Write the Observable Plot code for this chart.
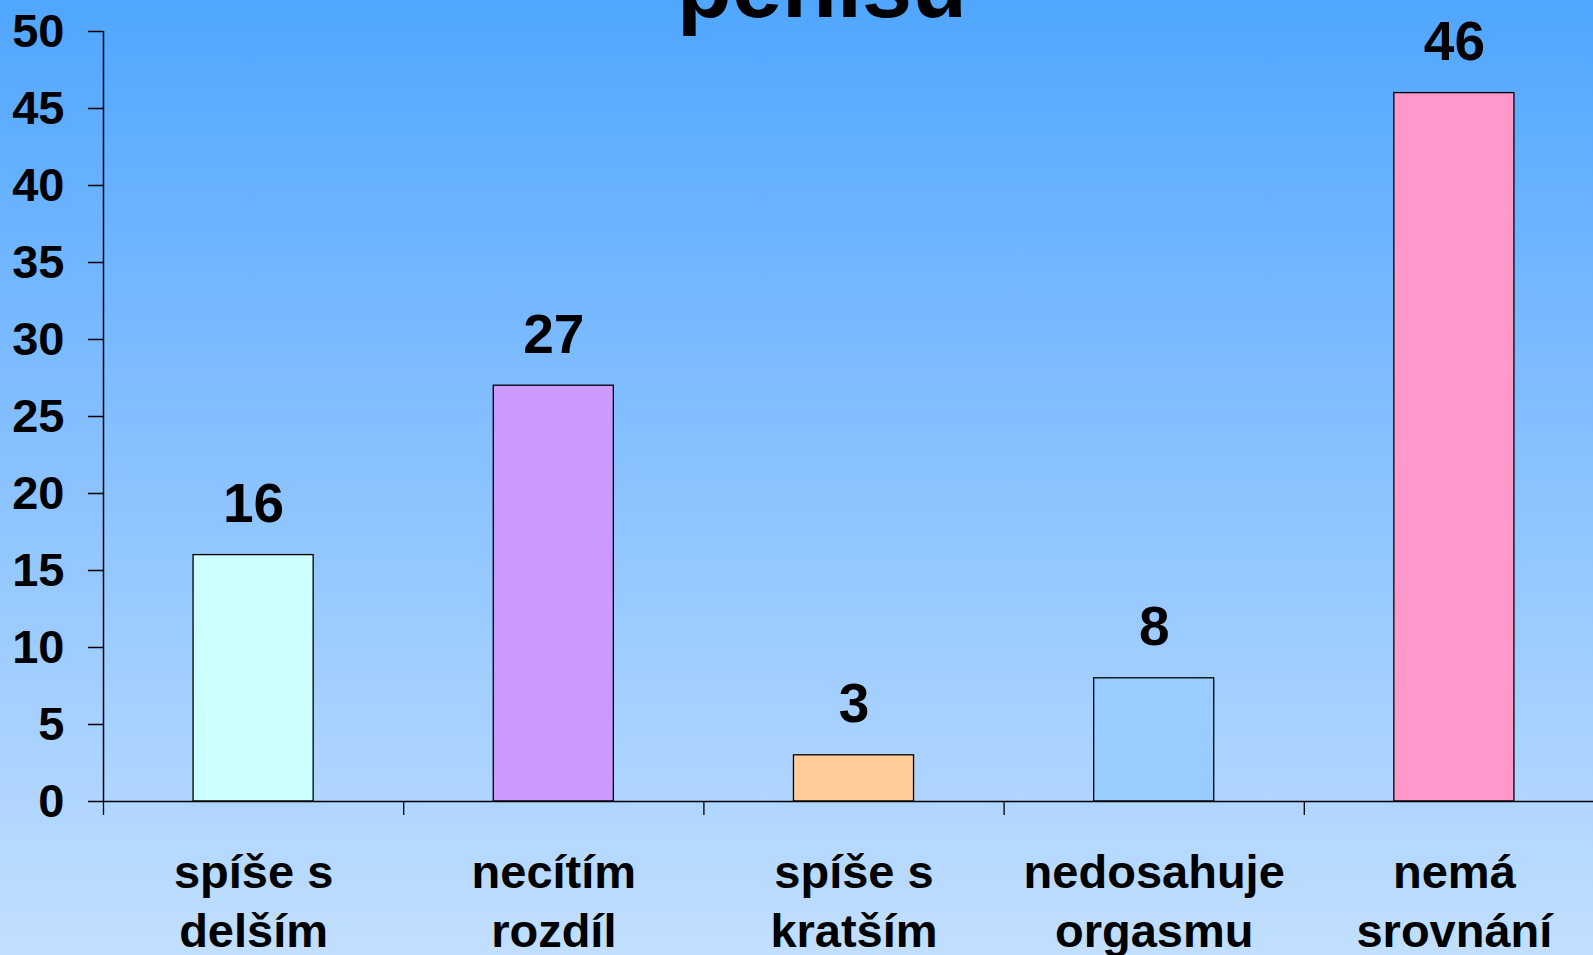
<!DOCTYPE html>
<html>
<head>
<meta charset="utf-8">
<script src="https://cdn.jsdelivr.net/npm/d3@7"></script>
<script src="https://cdn.jsdelivr.net/npm/@observablehq/plot@0.6"></script>
<style>
  html, body { margin: 0; padding: 0; width: 1593px; height: 955px; overflow: hidden; }
  body {
    background: linear-gradient(to bottom, #50A6FF 0%, #8AC2FF 50%, #C2DFFF 100%);
    font-family: "Liberation Sans", Arial, sans-serif;
    position: relative;
  }
  #title {
    position: absolute; left: 0; top: -59px; width: 1593px;
    box-sizing: border-box; padding-left: 51px;
    text-align: center; font-size: 90px; font-weight: bold; line-height: 1; color: #000;
  }
  #chart { position: absolute; left: 0; top: 0; }
  #chart svg { background: transparent !important; }
</style>
</head>
<body>
<div id="title">penisu</div>
<div id="chart"></div>
<script>
const categories = ["spíše s\ndelším", "necítím\nrozdíl", "spíše s\nkratším", "nedosahuje\norgasmu", "nemá\nsrovnání"];
const values = [16, 27, 3, 8, 46];
const colors = ["#CCFFFF", "#CC99FF", "#FFCC99", "#99CCFF", "#FF99CC"];
const yTicks = [0, 5, 10, 15, 20, 25, 30, 35, 40, 45, 50];

const data = categories.map((c, i) => ({cat: c, value: values[i], color: colors[i], i}));
const boundaries = d3.range(categories.length + 1);

const font = "'Liberation Sans', Arial, sans-serif";

const chart = Plot.plot({
  width: 1593,
  height: 955,
  marginLeft: 103,
  marginRight: 0,
  marginTop: 31,
  marginBottom: 154,
  style: {background: "transparent", fontFamily: font, fontWeight: "bold", color: "#000", overflow: "visible"},
  x: {type: "linear", domain: [0, categories.length], range: [103, 103 + 5 * 300.2]},
  y: {domain: [0, 50]},
  marks: [
    Plot.rectY(data, {
      x1: d => d.i + 0.3, x2: d => d.i + 0.7, y1: 0, y2: "value",
      fill: d => d.color, stroke: "#000", strokeWidth: 1.3
    }),
    Plot.ruleX([0], {stroke: "#000", strokeWidth: 1.5}),
    Plot.ruleY([0], {stroke: "#000", strokeWidth: 1.5}),
    Plot.axisY({ticks: yTicks, tickSize: 15, tickPadding: 24, fontSize: 47, fontWeight: "bold", stroke: "#000", strokeWidth: 1.5, label: null}),
    Plot.axisX({ticks: boundaries, tickSize: 14, tickFormat: () => "", stroke: "#000", strokeWidth: 1.3, label: null}),
    Plot.text(data, {
      x: d => d.i + 0.5, y: "value", text: d => String(d.value),
      fontSize: 55, fontWeight: "bold", fill: "#000", lineAnchor: "bottom", dy: -33
    }),
    Plot.text(data, {
      x: d => d.i + 0.5, y: 0, text: "cat",
      fontSize: 47, fontWeight: "bold", fill: "#000", lineAnchor: "top", lineHeight: 1.25, dy: 45
    })
  ]
});
document.getElementById("chart").appendChild(chart);
</script>
</body>
</html>
